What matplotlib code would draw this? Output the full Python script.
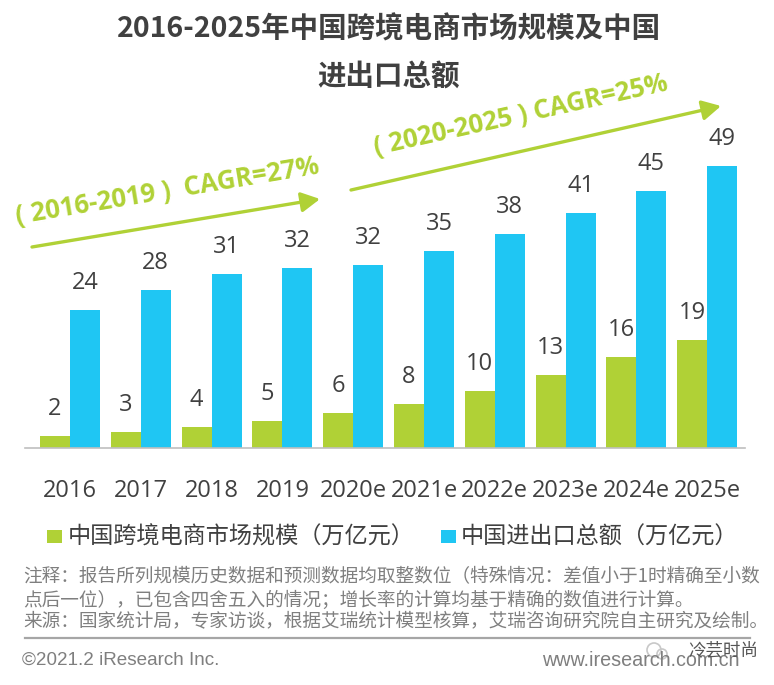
import matplotlib
matplotlib.use("Agg")
import matplotlib.pyplot as plt
from matplotlib.patches import Rectangle, FancyArrowPatch, Circle

plt.rcParams['font.family'] = ['Noto Sans CJK SC', 'DejaVu Sans']

W, H = 774, 685
years = ['2016', '2017', '2018', '2019', '2020e', '2021e', '2022e', '2023e', '2024e', '2025e']
ecommerce = [2.1, 2.8, 3.6, 4.7, 6.1, 7.6, 9.9, 12.7, 15.8, 18.8]
trade = [24.0, 27.5, 30.3, 31.3, 31.8, 34.3, 37.2, 40.9, 44.7, 49.0]
ecommerce_labels = ['2', '3', '4', '5', '6', '8', '10', '13', '16', '19']
trade_labels = ['24', '28', '31', '32', '32', '35', '38', '41', '45', '49']
title_lines = ['2016-2025年中国跨境电商市场规模及中国', '进出口总额']
legend_labels = ['中国跨境电商市场规模（万亿元）', '中国进出口总额（万亿元）']
notes = ['注释：报告所列规模历史数据和预测数据均取整数位（特殊情况：差值小于1时精确至小数',
         '点后一位），已包含四舍五入的情况；增长率的计算均基于精确的数值进行计算。',
         '来源：国家统计局，专家访谈，根据艾瑞统计模型核算，艾瑞咨询研究院自主研究及绘制。']

GREEN = '#B0D136'
BLUE = '#1FC6F3'
TXT = '#404040'
GREY = '#7F7F7F'

fig = plt.figure(figsize=(W / 100, H / 100), dpi=100, facecolor='white')
def fx(x): return x / W
def fy(y): return 1 - y / H

left, right = 25, 745
px_per_unit = 5.755
step = 70.8
ax = fig.add_axes([fx(left), fy(448), (right - left) / W, 300 / H])
ax.set_ylim(0, 300 / px_per_unit)
ax.set_xlim((left - 70) / step, (right - 70) / step)
ax.patch.set_alpha(0)
bw = 30 / step
for i in range(len(years)):
    ax.bar(i - bw / 2, ecommerce[i], bw, color=GREEN, linewidth=0)
    ax.bar(i + bw / 2, trade[i], bw, color=BLUE, linewidth=0)
    ax.annotate(ecommerce_labels[i], (i - bw / 2, ecommerce[i]), xytext=(0, 15), textcoords='offset pixels',
                ha='center', va='bottom', fontsize=17, color=TXT, family='Open Sans')
    ax.annotate(trade_labels[i], (i + bw / 2, trade[i]), xytext=(0, 15), textcoords='offset pixels',
                ha='center', va='bottom', fontsize=17, color=TXT, family='Open Sans')
for s in ['top', 'left', 'right']:
    ax.spines[s].set_visible(False)
ax.spines['bottom'].set_color('#BFBFBF')
ax.spines['bottom'].set_linewidth(1.2)
ax.set_yticks([])
ax.set_xticks(range(len(years)))
ax.set_xticklabels(years, fontsize=17, color=TXT, family='Open Sans')
ax.tick_params(axis='x', length=0, pad=22)

ov = fig.add_axes([0, 0, 1, 1])
ov.set_xlim(0, W); ov.set_ylim(H, 0); ov.axis('off'); ov.patch.set_alpha(0)

ov.text(389, 29, title_lines[0], ha='center', va='center', fontsize=20.5, fontweight='bold', color=TXT)
ov.text(389, 77, title_lines[1], ha='center', va='center', fontsize=20.5, fontweight='bold', color=TXT)

for (a, b) in [((32, 247), (320, 199)), ((351, 190), (721, 106))]:
    ov.add_patch(FancyArrowPatch(a, b, arrowstyle='-|>,head_length=0.75,head_width=0.4', mutation_scale=15,
                                 color=GREEN, linewidth=2.4, shrinkA=0, shrinkB=0))
ov.text(167, 191, '( 2016-2019 )  CAGR=27%', ha='center', va='center', rotation=9.5, fontsize=18.5,
        fontweight='bold', color=GREEN, family='Open Sans')
ov.text(521, 115, '( 2020-2025 ) CAGR=25%', ha='center', va='center', rotation=12.5, fontsize=18.5,
        fontweight='bold', color=GREEN, family='Open Sans')

ov.add_patch(Rectangle((47, 530), 15, 13, color=GREEN, lw=0))
ov.text(68, 537, legend_labels[0], ha='left', va='center', fontsize=16.7, color=TXT)
ov.add_patch(Rectangle((441, 530), 15, 13, color=BLUE, lw=0))
ov.text(461, 537, legend_labels[1], ha='left', va='center', fontsize=16.7, color=TXT)

for y, t in zip([576, 600, 622], notes):
    ov.text(23, y, t, ha='left', va='center', fontsize=13.45, color=GREY)

ov.plot([25, 750], [638, 638], color='#A6A6A6', lw=1.6)
ov.text(22, 660, '©2021.2 iResearch Inc.', ha='left', va='center', fontsize=13.6, color=GREY, family='Liberation Sans')
ov.text(740, 661, 'www.iresearch.com.cn', ha='right', va='center', fontsize=14.2, color=GREY, family='Liberation Sans')
ov.add_patch(Circle((654, 650), 7, fill=False, ec='#C8C8C8', lw=1.2))
ov.add_patch(Circle((662, 654), 5, fill=False, ec='#C8C8C8', lw=1.2))
ov.text(758, 651, '冷芸时尚', ha='right', va='center', fontsize=12.6, color='#555555')

fig.savefig('out.png', dpi=100, facecolor='white')
